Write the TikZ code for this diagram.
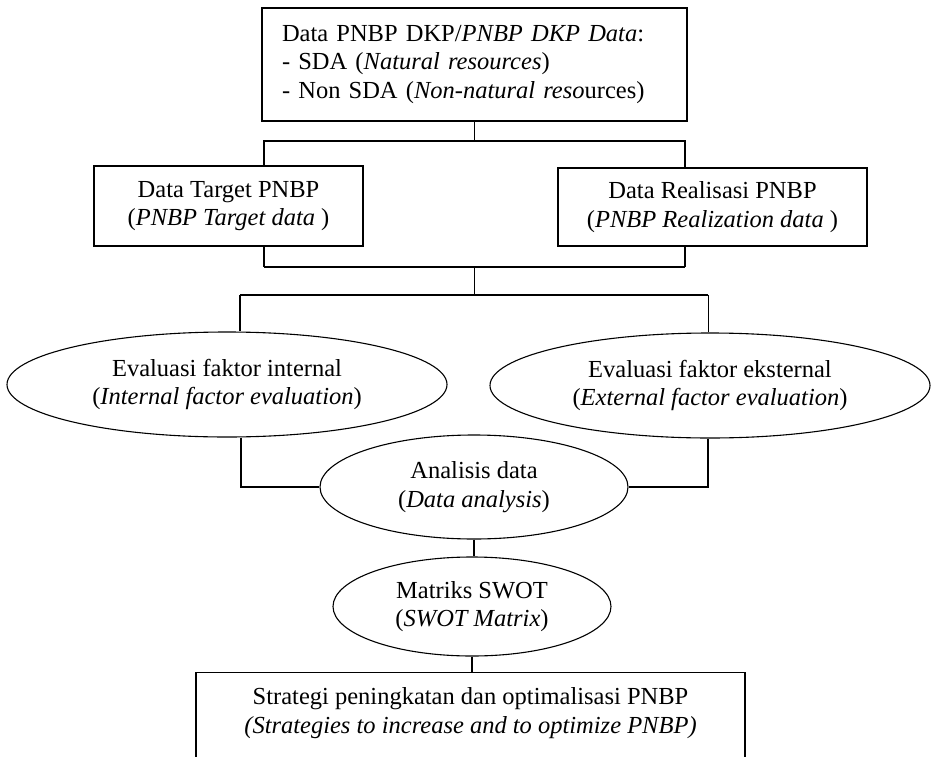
\documentclass[tikz,border=0pt]{standalone}
\usepackage{fontspec}
\setmainfont{Liberation Serif}
\usetikzlibrary{shapes.geometric}
\newcommand{\fsz}{\fontsize{24.5}{28.5}\selectfont}

\begin{document}
\begin{tikzpicture}[x=1pt,y=-1pt,
    kotak/.style={draw,line width=1.1pt,rectangle,inner sep=0pt,align=center,font=\fsz},
    elips/.style={draw,line width=1.1pt,ellipse,inner sep=0pt,align=center,font=\fsz},
    garis/.style={line width=1.1pt},
    tebal/.style={line width=1.7pt},
    tipis/.style={line width=0.6pt}]
\useasboundingbox (0,0) rectangle (931,757);
\node[kotak,minimum height=113pt,text width=385pt,align=left,inner xsep=20pt] (data) at (474.5,64.5)
    {Data PNBP DKP/\textit{PNBP DKP Data}:\\- SDA (\textit{Natural resources})\\- Non SDA (\textit{Non-natural reso}urces)};
\node[kotak,minimum width=269pt,minimum height=80pt] (target) at (228.5,206) {Data Target PNBP\\(\textit{PNBP Target data}~)};
\node[kotak,minimum width=309pt,minimum height=78pt] (real) at (712.5,207) {Data Realisasi PNBP\\(\textit{PNBP Realization data}~)};
\node[elips,minimum width=440pt,minimum height=105pt] (evint) at (227,384.5) {Evaluasi faktor internal\\(\textit{Internal factor evaluation})};
\node[elips,minimum width=440pt,minimum height=105pt] (evext) at (710,385.5) {Evaluasi faktor eksternal\\(\textit{External factor evaluation})};
\node[elips,minimum width=308pt,minimum height=104pt] (ana) at (474,487) {Analisis data\\(\textit{Data analysis})};
\node[elips,minimum width=278pt,minimum height=99pt] (swot) at (472,606.5) {Matriks SWOT\\(\textit{SWOT Matrix})};
\node[kotak,minimum width=549pt,inner ysep=12pt,anchor=north] (strat) at (470.5,672)
    {\begin{tabular}{@{}c@{}}Strategi peningkatan dan optimalisasi PNBP\\ \textit{(Strategies to increase and to optimize PNBP)}\\[40pt]\end{tabular}};
\coordinate (j0) at (474.5,141);
\coordinate (jl) at (264,141);
\coordinate (jr) at (685,141);
\coordinate (kl) at (264,267);
\coordinate (kr) at (685,267);
\coordinate (km) at (474.5,267);
\coordinate (mm) at (474.5,295);
\coordinate (ml) at (240,295);
\coordinate (mr) at (708,295);
\coordinate (al) at (241,487);
\coordinate (ar) at (708,487);
\draw[garis] (data.south) -- (j0);
\draw[garis] (jl |- target.north) -- (jl) -- (jr) -- (jr |- real.north);
\draw[garis] (kl |- target.south) -- (kl);
\draw[garis] (kr |- real.south) -- (kr);
\draw[tebal] (kl) -- (kr);
\draw[tipis] (km) -- (mm);
\draw[tebal] (ml) -- (mr);
\draw[garis] (ml) -- (ml |- evint.north);
\draw[tipis] (mr) -- (mr |- evext.north);
\draw[garis] (al |- evint.south) -- (al) -- (ana.west);
\draw[garis] (ar |- evext.south) -- (ar) -- (ana.east);
\draw[garis] (ana.south) -- (ana.south |- swot.north);
\draw[garis] (swot.south) -- (swot.south |- strat.north);
\end{tikzpicture}
\end{document}
